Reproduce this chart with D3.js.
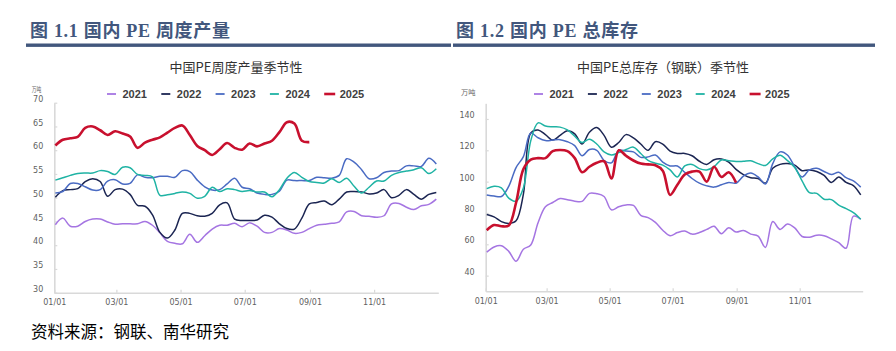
<!DOCTYPE html>
<html lang='zh'>
<head>
<meta charset='utf-8'>
<title>PE 周度产量 / 总库存</title>
<script src='https://cdn.jsdelivr.net/npm/d3@7/dist/d3.min.js'></script>
<style>
	body { margin: 0; background: #fff; }
</style>
</head>
<body>
<script>
// ---- data (weekly points) ----
var years = ['2021', '2022', '2023', '2024', '2025'];
var monthLabels = ['01/01', '03/01', '05/01', '07/01', '09/01', '11/01'];
var prodTicks = [30, 35, 40, 45, 50, 55, 60, 65, 70];
var stockTicks = [40, 60, 80, 100, 120, 140];

// 中国PE周度产量 (万吨)
var prod2021 = [44.3,45.7,44.0,44.0,45.0,45.5,45.5,44.9,44.4,44.5,44.5,44.5,45.0,44.2,42.6,40.8,40.4,40.3,42.3,40.6,42.0,43.4,44.2,44.2,44.6,43.9,44.7,44.0,42.7,42.7,43.5,43.2,42.5,42.7,43.5,44.2,44.4,44.6,44.9,47.0,47.1,46.2,46.1,45.9,46.2,48.7,48.8,48.0,47.5,48.3,48.6,49.7];
var prod2022 = [50.1,51.5,51.7,51.9,53.4,54.0,53.4,50.3,51.7,51.8,50.7,48.4,48.2,46.4,42.7,41.5,43.2,46.7,46.7,46.2,46.1,46.7,48.5,48.9,45.5,45.2,45.2,45.3,46.3,45.9,44.5,43.5,43.4,45.7,48.7,49.0,49.3,48.5,49.7,51.2,51.3,51.2,50.8,51.0,51.7,50.0,50.5,51.7,50.7,49.7,50.7,51.1];
var prod2023 = [51.0,51.3,53.0,53.0,52.3,51.6,51.7,53.5,53.8,52.9,53.0,54.8,54.3,54.2,54.5,54.5,54.3,55.7,55.5,53.7,52.3,51.6,51.7,52.9,54.1,52.2,51.9,51.0,50.7,50.7,51.4,53.7,53.6,53.6,53.6,54.3,54.2,54.1,54.7,58.2,57.5,55.9,54.0,54.2,55.3,55.6,55.7,56.7,56.7,56.6,58.3,57.1];
var prod2024 = [53.7,54.2,54.7,55.1,55.2,55.2,55.7,55.5,54.9,56.4,56.3,54.9,54.7,54.4,50.5,50.6,50.9,51.2,50.9,49.9,50.3,52.2,51.3,51.9,51.7,51.3,51.5,51.2,51.2,50.2,51.7,54.1,55.3,54.3,53.4,53.2,53.1,54.0,53.2,54.1,52.4,51.0,52.2,53.5,53.5,54.7,55.3,55.6,55.9,56.3,55.1,56.1];
var prod2025 = [61.0,62.2,62.5,62.8,64.7,65.0,64.2,63.2,64.0,63.5,62.9,60.5,61.6,62.2,62.7,63.7,64.7,65.2,63.2,60.9,60.0,59.0,60.2,61.5,60.5,60.1,61.4,60.8,61.4,62.0,63.8,65.9,65.6,62.0,61.7];

// 中国PE总库存（钢联） (万吨)
var stock2021 = [55.0,58.3,59.1,55.5,49.2,56.8,59.6,73.8,84.0,86.7,89.2,88.5,87.5,87.4,92.5,92.3,90.5,82.0,84.0,85.1,84.8,78.5,77.0,74.0,69.0,65.5,67.5,68.5,66.5,67.5,69.5,71.5,66.8,70.5,67.8,68.8,66.5,65.2,58.0,74.5,69.5,73.0,70.5,65.0,64.5,65.8,65.5,63.5,61.0,57.5,78.0,76.0];
var stock2022 = [79.0,77.5,74.5,73.3,75.0,92.0,131.0,133.0,130.0,126.5,129.5,132.5,130.5,124.0,131.5,134.5,129.5,122.0,125.0,130.0,128.0,124.0,120.0,125.5,124.0,119.5,118.0,118.0,116.5,113.0,111.0,114.0,114.5,112.5,107.8,104.5,102.5,102.0,99.0,108.5,111.0,111.5,110.5,107.0,107.5,106.5,104.0,99.5,103.0,99.5,97.5,91.5];
var stock2023 = [91.5,90.8,90.5,97.0,109.0,116.0,131.0,128.0,126.2,126.5,126.8,125.5,123.0,116.5,120.5,120.0,113.5,112.0,120.0,119.5,119.0,115.5,115.8,117.0,112.5,110.0,110.0,106.0,102.0,99.0,97.3,96.5,98.0,99.5,99.0,103.5,105.5,103.0,98.5,111.5,119.0,117.0,109.5,103.0,107.5,108.5,106.5,104.5,106.0,102.5,100.5,96.5];
var stock2024 = [95.5,97.0,96.0,89.5,87.5,96.0,126.0,137.5,135.5,135.0,134.8,133.0,129.0,125.0,127.0,124.0,119.0,117.0,118.5,120.5,122.0,118.0,113.5,111.7,110.5,107.5,103.0,110.0,111.0,108.3,107.5,109.5,113.8,113.3,112.8,113.0,113.3,111.5,110.3,114.5,116.8,113.5,109.0,100.5,93.0,92.5,88.8,88.5,85.0,82.8,80.2,76.0];
var stock2025 = [69.0,72.3,71.5,72.0,86.5,108.0,114.0,115.0,115.0,119.5,120.2,119.5,115.0,106.0,109.5,112.0,113.0,102.0,120.0,116.5,113.5,111.5,111.0,110.5,107.0,91.5,98.0,104.5,106.4,106.4,100.0,109.5,103.0,106.0,99.4];

// ---- style ----
var lineColor = {'2021': '#a575e2', '2022': '#1b2552', '2023': '#4a6bc3', '2024': '#1fb3a4', '2025': '#c8102e'};
var lineWidth = {'2021': 1.5, '2022': 1.5, '2023': 1.5, '2024': 1.5, '2025': 2.6};
var headColor = '#42577d';
var cjk = '"Noto Sans CJK SC", "Noto Sans", sans-serif';

var width = 896, height = 351;
var svg = d3.select('body').append('svg').attr('width', width).attr('height', height);

var parseMD = d3.timeParse('%m/%d');
var yearStart = parseMD('01/01');
var yearEnd = d3.timeYear.offset(yearStart, 1);
// weekly point i sits about 1 + 7.1*i days into the year
function weekDate(i) { return new Date(+yearStart + (1 + i * 7.1) * 864e5); }

// section headers
function header(txt, x, len, barX, barW) {
	svg.append('text').attr('x', x).attr('y', 37).attr('textLength', len).attr('lengthAdjust', 'spacing')
		.attr('font-family', '"Liberation Serif", ' + cjk).attr('font-weight', 'bold').attr('font-size', '18px')
		.attr('fill', headColor).text(txt);
	svg.append('rect').attr('x', barX).attr('y', 43.5).attr('width', barW).attr('height', 3.4).attr('fill', headColor);
}
header('图 1.1 国内 PE 周度产量', 30, 200, 26, 425);
header('图 1.2 国内 PE 总库存', 456, 182, 453, 422);

function drawChart(cfg) {
	var x = d3.scaleTime().domain([yearStart, yearEnd]).range([cfg.x0, cfg.x1]);
	var y = d3.scaleLinear().domain(cfg.domain).range([cfg.yBot, cfg.yTop]);

	// title
	svg.append('text').attr('x', cfg.titleX).attr('y', 71.5).attr('text-anchor', 'middle')
		.attr('font-family', cjk).attr('font-size', '13px').attr('fill', '#333').text(cfg.title);

	// unit
	svg.append('text').attr('x', cfg.unitX).attr('y', cfg.unitY).attr('textLength', cfg.unitLen).attr('lengthAdjust', 'spacingAndGlyphs')
		.attr('font-family', cjk).attr('font-size', '7px').attr('fill', '#666').text('万吨');

	// axes
	var gx = svg.append('g').attr('transform', 'translate(0,' + cfg.yBot + ')')
		.call(d3.axisBottom(x).tickValues(monthLabels.map(parseMD)).tickFormat(d3.timeFormat('%m/%d'))
			.tickSizeInner(-3).tickSizeOuter(0).tickPadding(7));
	var gy = svg.append('g').attr('transform', 'translate(' + cfg.x0 + ',0)')
		.call(d3.axisLeft(y).tickValues(cfg.ticks).tickSizeInner(-3).tickSizeOuter(0).tickPadding(11));
	gy.selectAll('text').attr('y', -4);
	[gx, gy].forEach(function(g) {
		g.select('.domain').attr('stroke', '#d9d9d9').attr('stroke-width', 1.6);
		g.selectAll('.tick line').attr('stroke', '#d9d9d9').attr('stroke-width', 1.2);
		g.selectAll('text').attr('font-family', '"DejaVu Sans", sans-serif').attr('font-size', '8px').attr('fill', '#5f5f5f');
	});

	// series
	var line = d3.line().x(function(d, i) { return x(weekDate(i)); }).y(function(d) { return y(d); })
		.curve(d3.curveCatmullRom.alpha(0.5));
	svg.append('g').selectAll('path').data(years).enter().append('path')
		.attr('d', function(yr, k) { return line(cfg.series[k]); })
		.attr('fill', 'none')
		.attr('stroke', function(yr) { return lineColor[yr]; })
		.attr('stroke-width', function(yr) { return lineWidth[yr]; })
		.attr('stroke-linejoin', 'round');

	// legend
	var lg = svg.append('g').selectAll('g').data(years).enter().append('g')
		.attr('transform', function(yr, k) { return 'translate(' + (cfg.legendX + k * cfg.legendStep) + ',94)'; });
	lg.append('line').attr('x1', 0).attr('x2', function(yr) { return yr == '2025' ? 11 : 9; })
		.attr('stroke', function(yr) { return lineColor[yr]; })
		.attr('stroke-width', function(yr) { return yr == '2025' ? 2.6 : 1.8; });
	lg.append('text').attr('x', 15.5).attr('y', 4).attr('font-family', '"Liberation Sans", Arial, sans-serif')
		.attr('font-size', '11px').attr('font-weight', 'bold').attr('fill', '#404040').text(function(yr) { return yr; });
}

drawChart({
	x0: 54.3, x1: 438.3, yTop: 102.7, yBot: 292.7, domain: [30, 70], ticks: prodTicks,
	series: [prod2021, prod2022, prod2023, prod2024, prod2025],
	title: '中国PE周度产量季节性', titleX: 236,
	unitX: 31.7, unitY: 92, unitLen: 9.5, legendX: 107, legendStep: 54.3
});
drawChart({
	x0: 485.7, x1: 862.7, yTop: 103.3, yBot: 291.3, domain: [30, 150], ticks: stockTicks,
	series: [stock2021, stock2022, stock2023, stock2024, stock2025],
	title: '中国PE总库存（钢联）季节性', titleX: 663,
	unitX: 461, unitY: 94.5, unitLen: 14.5, legendX: 534, legendStep: 53.9
});

// source note
svg.append('text').attr('x', 31).attr('y', 337.5).attr('font-family', cjk).attr('font-size', '16.5px')
	.attr('fill', '#000').text('资料来源：钢联、南华研究');
</script>
</body>
</html>
